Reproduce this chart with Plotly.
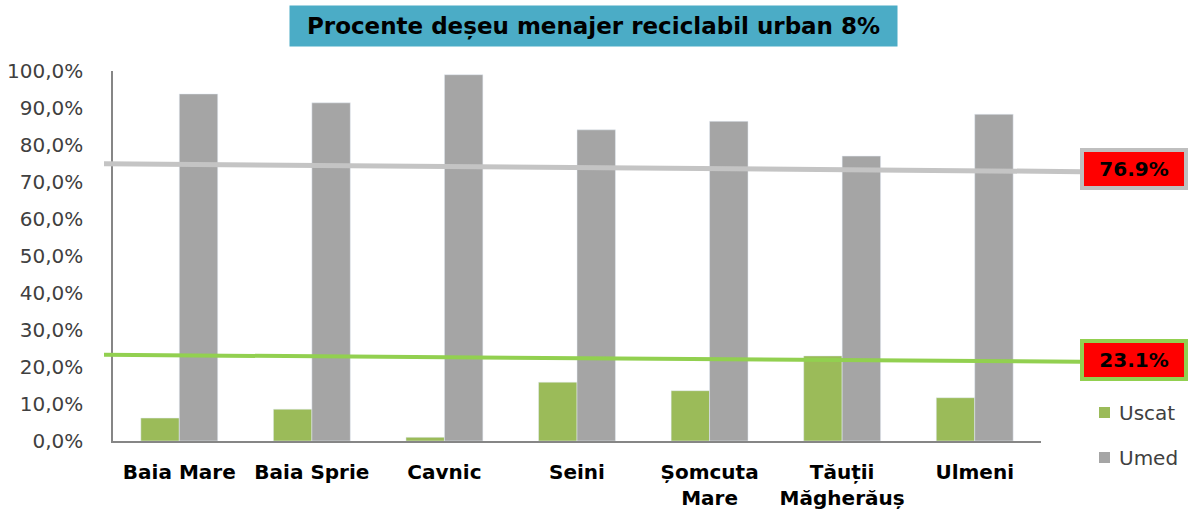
import plotly.graph_objects as go

categories = ["Baia Mare", "Baia Sprie", "Cavnic", "Seini", "Șomcuta<br>Mare", "Tăuții<br>Măgherăuș", "Ulmeni"]
uscat = [6.2, 8.6, 1.0, 15.9, 13.6, 23.0, 11.7]
umed = [93.8, 91.4, 99.0, 84.1, 86.4, 77.0, 88.3]
tick_vals = [0, 10, 20, 30, 40, 50, 60, 70, 80, 90, 100]
tick_text = ["0,0%", "10,0%", "20,0%", "30,0%", "40,0%", "50,0%", "60,0%", "70,0%", "80,0%", "90,0%", "100,0%"]
umed_ref_line = [74.9, 72.8]
uscat_ref_line = [23.3, 21.4]
umed_label = "76.9%"
uscat_label = "23.1%"
title_text = "Procente deșeu menajer reciclabil urban 8%"
series_names = ["Uscat", "Umed"]

GREEN = "#9BBB59"
GRAY = "#A5A5A5"
FONT = "DejaVu Sans"

fig = go.Figure()
fig.add_trace(go.Bar(name=series_names[0], x=categories, y=uscat, marker_color=GREEN))
fig.add_trace(go.Bar(name=series_names[1], x=categories, y=umed, marker_color=GRAY))

L, R, T, B = 113, 1041, 71, 441
W = R - L
H = B - T
def px(x):
    return (x - L) / W
def py(y):
    return (B - y) / H

# reference lines
fig.add_shape(type="line", xref="paper", yref="y", x0=px(104), x1=px(1082),
              y0=umed_ref_line[0], y1=umed_ref_line[1],
              line=dict(color="#C4C4C4", width=5), layer="above")
fig.add_shape(type="line", xref="paper", yref="y", x0=px(104), x1=px(1082),
              y0=uscat_ref_line[0], y1=uscat_ref_line[1],
              line=dict(color="#92D050", width=4), layer="above")

for lbl, yc, bc in [(umed_label, 169, "#BFBFBF"), (uscat_label, 360, "#92D050")]:
    fig.add_annotation(xref="paper", yref="paper", x=px(1134), y=py(yc),
                       xanchor="center", yanchor="middle",
                       text="<b>" + lbl + "</b>", showarrow=False,
                       font=dict(family=FONT, size=20, color="#000000"),
                       bgcolor="#FF0000", bordercolor=bc, borderwidth=4,
                       borderpad=4, width=92, height=26)

# title box
fig.add_annotation(xref="paper", yref="paper", x=px(593), y=py(26),
                   xanchor="center", yanchor="middle",
                   text="<b>" + title_text + "</b>", showarrow=False,
                   font=dict(family=FONT, size=23, color="#000000"),
                   bgcolor="#4BACC6", borderpad=6, width=595, height=28)

# manual legend
for name, col, yc in [(series_names[0], GREEN, 413), (series_names[1], GRAY, 458)]:
    fig.add_shape(type="rect", xref="paper", yref="paper",
                  x0=px(1099), x1=px(1110), y0=py(yc - 6), y1=py(yc + 5),
                  fillcolor=col, line=dict(width=0))
    fig.add_annotation(xref="paper", yref="paper", x=px(1117), y=py(yc),
                       xanchor="left", yanchor="middle", text=name, showarrow=False,
                       font=dict(family=FONT, size=20, color="#404040"))

fig.update_layout(
    width=1190, height=510,
    margin=dict(l=L, r=1190 - R, t=T, b=510 - B),
    paper_bgcolor="white", plot_bgcolor="white",
    barmode="group", bargap=0.42, bargroupgap=0,
    showlegend=False,
    font=dict(family=FONT),
)
fig.update_xaxes(showline=True, linecolor="#868686", linewidth=1.5, showgrid=False,
                 ticks="", tickfont=dict(family=FONT, size=20, color="#000000"),
                 tickangle=0, automargin=False, ticklabelstandoff=12,
                 tickvals=categories, ticktext=["<b>" + c + "</b>" for c in categories])
fig.update_yaxes(range=[0, 100], tickvals=tick_vals, ticktext=tick_text,
                 showline=True, linecolor="#868686", linewidth=1.5, showgrid=False,
                 zeroline=False, ticks="", automargin=False, ticklabelstandoff=24,
                 tickfont=dict(family=FONT, size=20, color="#404040"))

fig.write_html("out.html", config={"displayModeBar": False},
               post_script="document.body.style.margin='0';document.body.style.overflow='hidden';")
